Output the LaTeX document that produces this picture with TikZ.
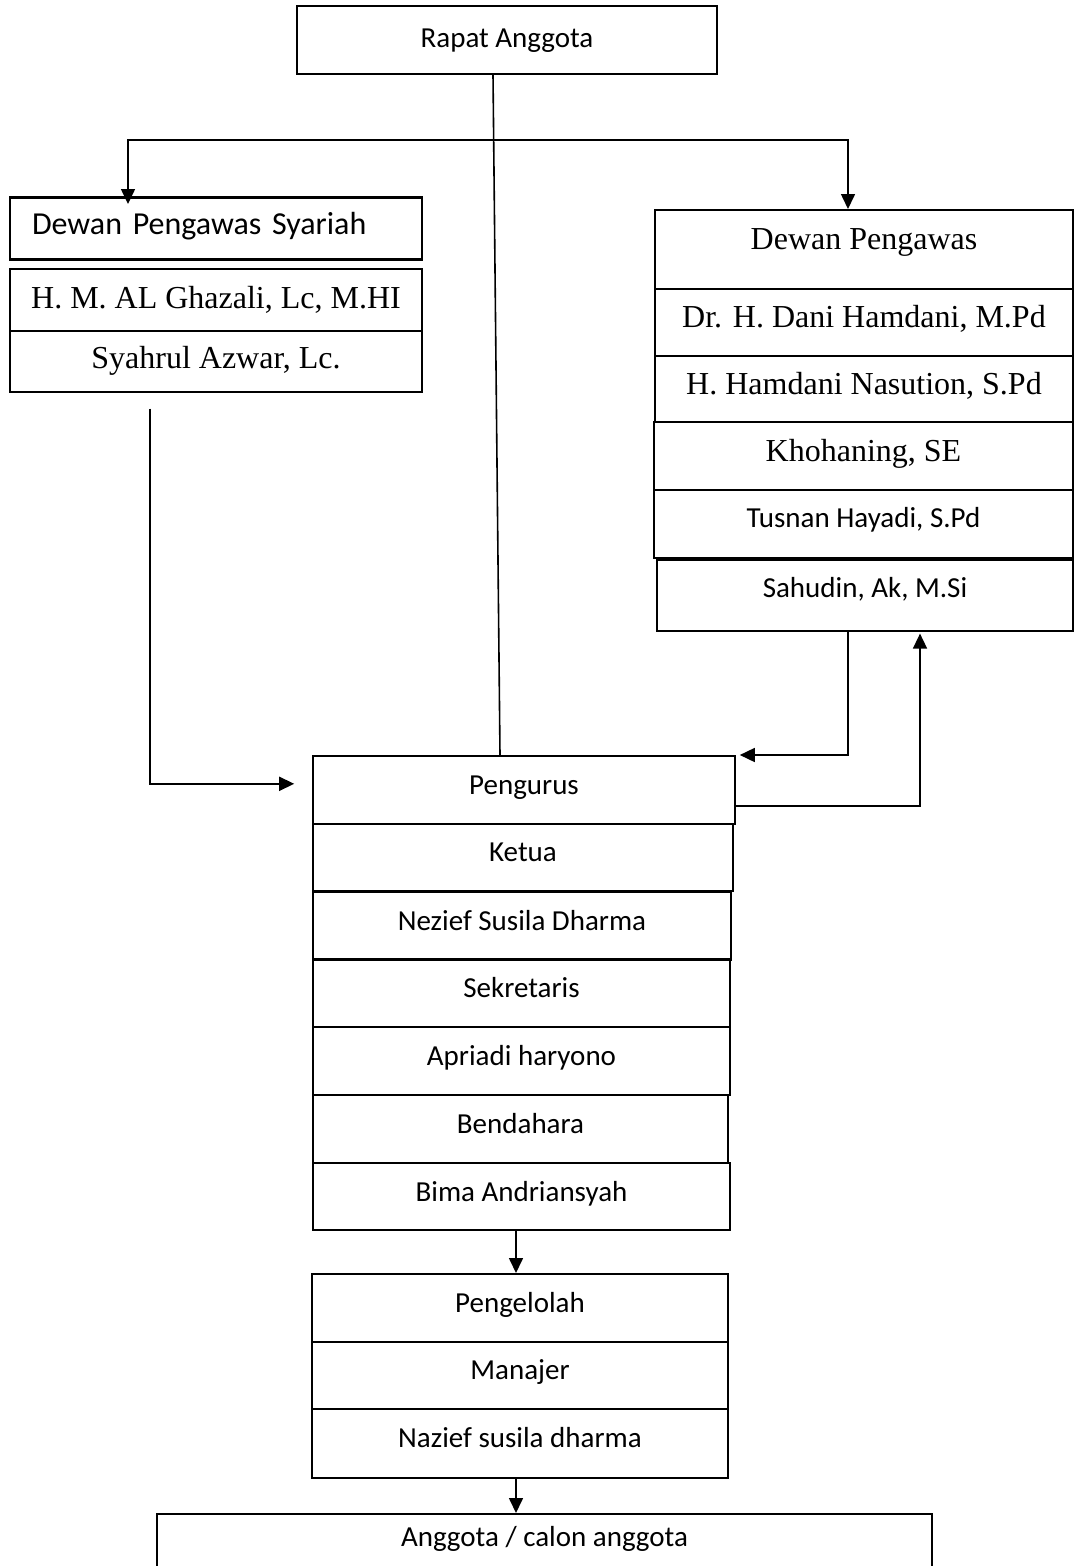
\documentclass[tikz,border=0pt]{standalone}
\usepackage{fontspec}
\setmainfont{Liberation Serif}
\newfontfamily\calibrifont{Carlito}
\usetikzlibrary{arrows.meta}

\begin{document}
\begin{tikzpicture}[x=1pt, y=-1pt,
    box/.style ={draw, line width=1.6pt, inner sep=0pt, anchor=north,
      font=\calibrifont\fontsize{29}{34}\selectfont},
    seriftext/.style ={font=\fontsize{32}{38}\selectfont},
    connector/.style ={line width=1.6pt},
    arrowto/.style ={connector, -{Triangle[length=15pt,width=14pt]}}]
   \useasboundingbox (0,0) rectangle (1074,1566);
   % top
   \node[box, minimum width=420pt, text height=42pt, text depth=26pt] (rapat) at (507,5) {Rapat Anggota};
   % dewan pengawas syariah
   \node[box, line width=2.6pt, font=\calibrifont\fontsize{32}{38}\selectfont, minimum width=412pt,
     text width=368pt, align=left, text height=37pt, text depth=25pt] (syariah) at (216,196) {Dewan Pengawas Syariah};
   \node[box, seriftext, minimum width=412pt, text height=40pt, text depth=22pt] (ghazali) at (216,268) {H. M. AL Ghazali, Lc, M.HI};
   \node[box, seriftext, minimum width=412pt, text height=38pt, text depth=23pt] (syahrul) at (216,330) {Syahrul Azwar, Lc.};
   % dewan pengawas
   \node[box, seriftext, minimum width=418pt, text height=40pt, text depth=39pt] (dewan) at (864,209) {Dewan Pengawas};
   \node[box, seriftext, minimum width=418pt, text height=39pt, text depth=28pt] (dani) at (864,288) {Dr. H. Dani Hamdani, M.Pd};
   \node[box, seriftext, minimum width=418pt, text height=39pt, text depth=27pt] (nasution) at (864,355) {H. Hamdani Nasution, S.Pd};
   \node[box, seriftext, minimum width=419pt, text height=40pt, text depth=28pt] (khohaning) at (863.5,421) {Khohaning, SE};
   \node[box, minimum width=419pt, text height=38pt, text depth=30pt] (tusnan) at (863.5,489) {Tusnan Hayadi, S.Pd};
   \node[box, minimum width=416pt, text height=38pt, text depth=33pt] (sahudin) at (865,559) {Sahudin, Ak, M.Si};
   % pengurus
   \node[box, minimum width=422pt, text height=39pt, text depth=29pt] (pengurus) at (524,755) {Pengurus};
   \node[box, minimum width=420pt, text height=38pt, text depth=29pt] (ketua) at (523,823) {Ketua};
   \node[box, minimum width=418pt, text height=39pt, text depth=29pt] (ketuanama) at (522,891) {Nezief Susila Dharma};
   \node[box, minimum width=417pt, text height=39pt, text depth=29pt] (sekretaris) at (521.5,958) {Sekretaris};
   \node[box, minimum width=417pt, text height=39pt, text depth=29pt] (sekretarisnama) at (521.5,1026) {Apriadi haryono};
   \node[box, minimum width=415pt, text height=39pt, text depth=29pt] (bendahara) at (520.5,1094) {Bendahara};
   \node[box, minimum width=417pt, text height=39pt, text depth=28pt] (bendaharanama) at (521.5,1162) {Bima Andriansyah};
   % pengelolah
   \node[box, minimum width=416pt, text height=39pt, text depth=29pt] (pengelolah) at (520,1273) {Pengelolah};
   \node[box, minimum width=416pt, text height=38pt, text depth=29pt] (manajer) at (520,1341) {Manajer};
   \node[box, minimum width=416pt, text height=39pt, text depth=30pt] (manajernama) at (520,1408) {Nazief susila dharma};
   % anggota
   \node[box, minimum width=775pt, text height=33pt, text depth=24pt] (anggota) at (544.5,1513) {Anggota / calon anggota};
   % connectors
   \coordinate (bus) at (500,140);
   \draw[connector] ([xshift=-14pt]rapat.south) -- ([xshift=-24pt]pengurus.north);
   \draw[connector, {Triangle[length=15pt,width=14pt]}-{Triangle[length=15pt,width=14pt]}]
     ([xshift=-88pt,yshift=-8pt]syariah.north) |- (bus) -| ([xshift=-16pt]dewan.north);
   \draw[arrowto] ([xshift=-66pt,yshift=-16pt]syahrul.south) |- ([xshift=-18pt,yshift=6pt]pengurus.west);
   \draw[arrowto] ([xshift=-17pt]sahudin.south) |- ([xshift=4pt]pengurus.north east);
   \draw[arrowto] ([xshift=-2pt,yshift=-16pt]pengurus.east) -| ([xshift=55pt,yshift=-2pt]sahudin.south);
   \draw[arrowto] ([xshift=-5.5pt]bendaharanama.south) -- ([xshift=-4pt]pengelolah.north);
   \draw[arrowto] ([xshift=-4pt]manajernama.south) -- ([xshift=-28.5pt]anggota.north);
\end{tikzpicture}
\end{document}
